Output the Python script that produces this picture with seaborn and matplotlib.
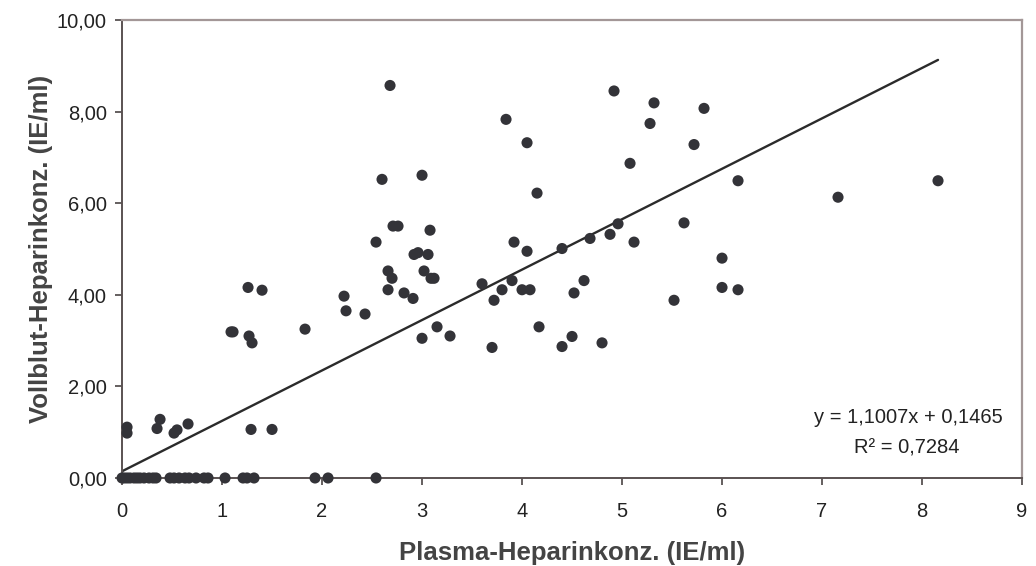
import numpy as np
import pandas as pd
import matplotlib
matplotlib.use("Agg")
import matplotlib.pyplot as plt
from matplotlib.ticker import FuncFormatter
import seaborn as sns

# Plasma vs. whole-blood heparin concentration (IE/ml)
plasma = [
    # samples below detection in whole blood
    0.00, 0.02, 0.05, 0.08, 0.12, 0.15, 0.18, 0.22, 0.27, 0.31, 0.34,
    0.48, 0.52, 0.57, 0.63, 0.67, 0.74, 0.82, 0.86, 1.03, 1.21, 1.25,
    1.32, 1.93, 2.06, 2.54,
    # low range
    0.05, 0.05, 0.38, 0.35, 0.52, 0.55, 0.66, 1.29, 1.50,
    # mid and high range
    1.09, 1.11, 1.26, 1.40, 1.27, 1.30, 1.83,
    2.22, 2.24, 2.43,
    2.54, 2.60, 2.68, 2.71, 2.76,
    2.66, 2.70, 2.66, 2.82, 2.91,
    2.92, 2.96, 3.00, 3.02, 3.06, 3.08, 3.09, 3.12,
    3.00, 3.15, 3.28,
    3.60, 3.70, 3.72, 3.80, 3.84, 3.90, 3.92,
    4.00, 4.08, 4.05, 4.05, 4.15, 4.17,
    4.40, 4.40, 4.50, 4.52, 4.62, 4.68, 4.80, 4.88, 4.92, 4.96,
    5.08, 5.12, 5.28, 5.32, 5.52, 5.62, 5.72, 5.82,
    6.00, 6.00, 6.16, 6.16, 7.16, 8.16,
]
vollblut = [
    0.00, 0.00, 0.00, 0.00, 0.00, 0.00, 0.00, 0.00, 0.00, 0.00, 0.00,
    0.00, 0.00, 0.00, 0.00, 0.00, 0.00, 0.00, 0.00, 0.00, 0.00, 0.00,
    0.00, 0.00, 0.00, 0.00,
    1.11, 0.98, 1.28, 1.08, 0.98, 1.05, 1.18, 1.06, 1.06,
    3.19, 3.19, 4.16, 4.10, 3.10, 2.95, 3.25,
    3.97, 3.65, 3.58,
    5.15, 6.52, 8.57, 5.50, 5.50,
    4.52, 4.36, 4.11, 4.04, 3.92,
    4.88, 4.92, 6.61, 4.52, 4.88, 5.41, 4.36, 4.36,
    3.05, 3.30, 3.10,
    4.24, 2.85, 3.88, 4.11, 7.83, 4.31, 5.15,
    4.11, 4.11, 7.32, 4.95, 6.22, 3.30,
    5.01, 2.87, 3.09, 4.04, 4.31, 5.23, 2.95, 5.32, 8.45, 5.55,
    6.87, 5.15, 7.74, 8.19, 3.88, 5.57, 7.28, 8.07,
    4.80, 4.16, 4.11, 6.49, 6.13, 6.49,
]

# Linear trend as reported
slope = 1.1007
intercept = 0.1465
r_squared = 0.7284

x_ticks = list(range(0, 10))
y_ticks = [0, 2, 4, 6, 8, 10]

df = pd.DataFrame({"plasma": plasma, "vollblut": vollblut})
trend_x = np.array([0.0, max(plasma)])
trend = pd.DataFrame({"x": trend_x, "y": slope * trend_x + intercept})

sns.set_theme(style="white")
plt.rcParams["font.family"] = ["Liberation Sans", "DejaVu Sans"]

fig = plt.figure(figsize=(10.36, 5.66), dpi=100)
ax = fig.add_axes([0.1178, 0.1555, 0.8687, 0.8092])

sns.lineplot(data=trend, x="x", y="y", ax=ax, color="#2b2b2b",
             linewidth=1.7, zorder=2)
sns.scatterplot(data=df, x="plasma", y="vollblut", ax=ax, color="#333338",
                s=64, edgecolor="none", linewidth=0, zorder=3, clip_on=False)

ax.set_xlim(0, 9)
ax.set_ylim(0, 10)
ax.set_xticks(x_ticks)
ax.set_yticks(y_ticks)
ax.xaxis.set_major_formatter(FuncFormatter(lambda v, p: f"{v:.0f}"))
ax.yaxis.set_major_formatter(
    FuncFormatter(lambda v, p: f"{v:.2f}".replace(".", ",")))

ax.tick_params(axis="both", which="major", direction="out", length=5,
               width=1.2, color="#4a4444", labelsize=14.5, labelcolor="#222222",
               bottom=True, left=True)
ax.tick_params(axis="x", pad=12)
ax.tick_params(axis="y", pad=6)

for side in ("left", "bottom"):
    ax.spines[side].set_color("#5a5252")
    ax.spines[side].set_linewidth(1.4)
for side in ("top", "right"):
    ax.spines[side].set_color("#a39797")
    ax.spines[side].set_linewidth(1.6)

ax.set_xlabel("Plasma-Heparinkonz. (IE/ml)", fontsize=18.5, fontweight="bold",
              color="#444444", labelpad=15)
ax.set_ylabel("Vollblut-Heparinkonz. (IE/ml)", fontsize=18.5, fontweight="bold",
              color="#444444", labelpad=3)

eq = f"y = {slope:.4f}x + {intercept:.4f}".replace(".", ",")
ax.text(7.86, 1.31, eq, ha="center", va="center", fontsize=14.5,
        color="#222222")
ax.text(7.85, 0.655, f"R² = {r_squared:.4f}".replace(".", ","),
        ha="center", va="center", fontsize=14.5, color="#222222")

fig.savefig("out.png", dpi=100)
